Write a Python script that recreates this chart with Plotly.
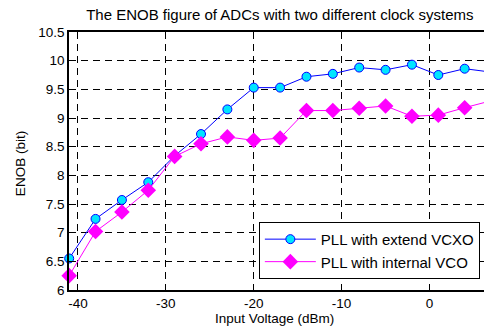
import plotly.graph_objects as go

x_dbm = [-41, -38, -35, -32, -29, -26, -23, -20, -17, -14, -11, -8, -5, -2, 1, 4, 7]
enob_vcxo = [6.55, 7.24, 7.57, 7.88, 8.34, 8.72, 9.15, 9.53, 9.53, 9.72, 9.77, 9.88, 9.84, 9.93, 9.75, 9.86, 9.80]
enob_vco = [6.25, 7.02, 7.36, 7.74, 8.33, 8.55, 8.67, 8.61, 8.65, 9.13, 9.13, 9.17, 9.21, 9.03, 9.05, 9.18, 9.30]
y_ticks = [6, 6.5, 7, 7.5, 8, 8.5, 9, 9.5, 10, 10.5]
x_ticks = [-40, -30, -20, -10, 0]

font = "Liberation Sans, Arial, sans-serif"

fig = go.Figure()
fig.add_trace(go.Scatter(
    x=x_dbm, y=enob_vcxo, mode="lines+markers", name="PLL with extend VCXO",
    line=dict(color="#0000ff", width=1),
    marker=dict(symbol="circle", size=9, color="#00e5ff", line=dict(color="#0000ff", width=1)),
    cliponaxis=False,
))
fig.add_trace(go.Scatter(
    x=x_dbm, y=enob_vco, mode="lines+markers", name="PLL with internal VCO",
    line=dict(color="#ff00ff", width=1),
    marker=dict(symbol="diamond", size=12, color="#ff00ff", line=dict(color="#ff00ff", width=0)),
    cliponaxis=False,
))

fig.update_layout(
    width=484, height=334,
    margin=dict(l=69, r=0, t=32, b=44, autoexpand=False),
    paper_bgcolor="white", plot_bgcolor="white",
    font=dict(family=font, size=13.5, color="black"),
    title=dict(text="The ENOB figure of ADCs with two different clock systems",
               x=0.508, xref="paper", xanchor="center", y=0.955, yref="container", yanchor="middle",
               font=dict(size=15, family=font, color="black")),
    showlegend=True,
    legend=dict(x=0.99, y=0.043, xanchor="right", yanchor="bottom",
                bgcolor="white", bordercolor="black", borderwidth=1,
                font=dict(size=15, family=font, color="black"),
                tracegroupgap=0, itemwidth=51),
    xaxis=dict(
        range=[-41.02, 6.2], tickvals=x_ticks, ticktext=[str(v) for v in x_ticks],
        showgrid=True, gridcolor="black", gridwidth=1, griddash="7px,5px",
        showline=True, linecolor="black", linewidth=1.5, mirror="allticks",
        ticks="inside", ticklen=5, tickcolor="black", zeroline=False, automargin=False,
        tickfont=dict(size=13.5, family=font),
    ),
    yaxis=dict(
        range=[6, 10.5], tickvals=y_ticks, ticktext=[f"{v:g}" for v in y_ticks],
        showgrid=True, gridcolor="black", gridwidth=1, griddash="7px,5px",
        showline=True, linecolor="black", linewidth=1.5, mirror=False,
        ticks="inside", ticklen=5, tickcolor="black", zeroline=False, automargin=False,
        tickfont=dict(size=13.5, family=font),
    ),
    annotations=[
        dict(text="Input Voltage (dBm)", xref="paper", yref="paper", x=0.496, y=-0.112,
             xanchor="center", yanchor="middle", showarrow=False, font=dict(size=13.5, family=font)),
        dict(text="ENOB (bit)", xref="paper", yref="paper", x=-0.118, y=0.488, textangle=-90,
             xanchor="center", yanchor="middle", showarrow=False, font=dict(size=13.5, family=font)),
    ],
)

fig.write_html("out.html", config={"displayModeBar": False},
               post_script="document.body.style.margin='0';document.body.style.overflow='hidden';")
